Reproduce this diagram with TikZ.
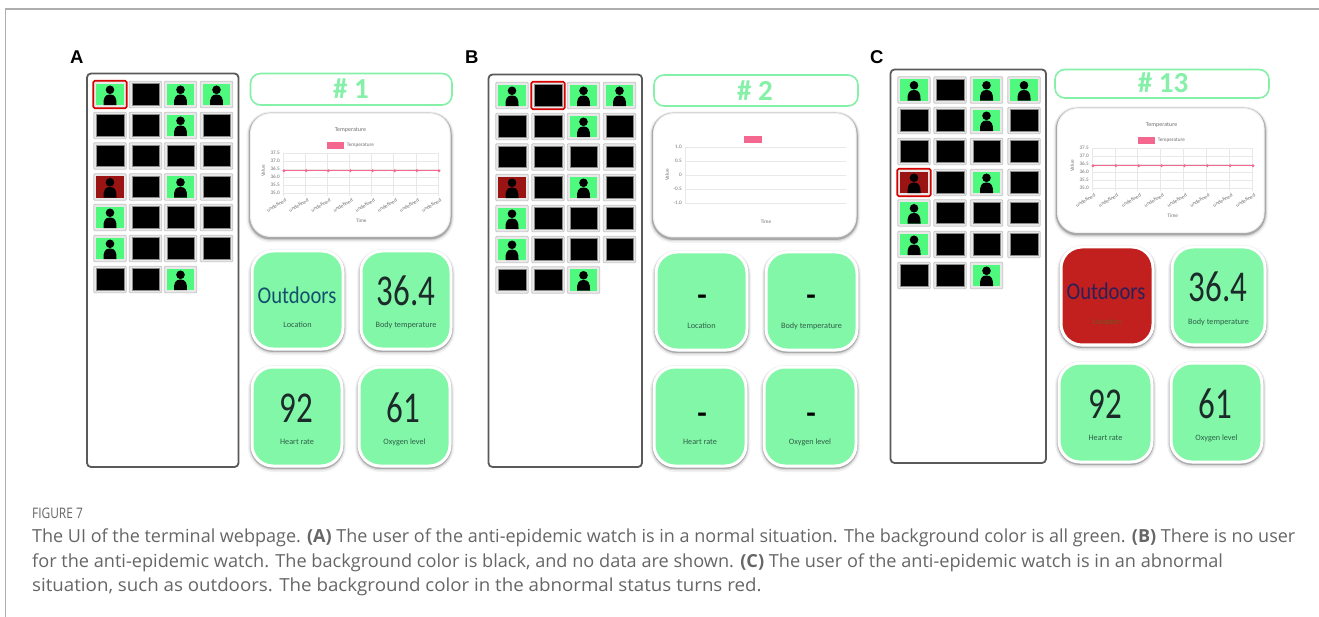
\documentclass[tikz,border=0pt]{standalone}
\usepackage{fontspec}
\usepackage{graphicx}
\setmainfont{Carlito}
\newfontfamily\capfont{Open Sans}
\newfontfamily\letterfont{Liberation Sans}
\definecolor{cardgreen}{HTML}{82F7A8}
\definecolor{titlegreen}{HTML}{84F0A8}
\definecolor{cardred}{HTML}{C21F1F}
\definecolor{thumbgreen}{HTML}{4FF97E}
\definecolor{thumbred}{HTML}{9A1414}
\definecolor{framegray}{HTML}{5A5A5A}
\definecolor{rulegray}{HTML}{AEAEAE}
\definecolor{gridgray}{HTML}{E8E8E8}
\definecolor{labgray}{HTML}{707070}
\definecolor{pinkline}{HTML}{F4688F}
\definecolor{tealtext}{HTML}{14506E}
\definecolor{navytext}{HTML}{2A2058}
\definecolor{darktext}{HTML}{1C2A2A}
\definecolor{labgreen}{HTML}{2F6048}
\definecolor{labred}{HTML}{6E5A20}
\definecolor{capgray}{HTML}{666666}
\newcommand{\fs}[1]{\fontsize{#1}{#1}\selectfont}
\tikzset{
  softshadow/.style={
    preaction={draw=black,draw opacity=.05,line width=8pt,transform canvas={yshift=-2pt}},
    preaction={draw=black,draw opacity=.10,line width=5.5pt,transform canvas={yshift=-1.5pt}},
    preaction={draw=black,draw opacity=.22,line width=3.5pt,transform canvas={yshift=-1.2pt}}},
  panelframe/.style={rectangle,rounded corners=4pt,draw=framegray,line width=1.8pt,fill=white,inner sep=0pt},
  titlebar/.style={rectangle,rounded corners=10pt,draw=titlegreen,line width=1.6pt,fill=white,inner sep=0pt},
  chartcard/.style={rectangle,rounded corners=20pt,draw=white!94!black,line width=1pt,fill=white,inner sep=0pt,softshadow},
  infobox/.style={rectangle,rounded corners=21pt,draw=white,line width=3pt,inner sep=0pt,softshadow},
  thumbbase/.style={rectangle,rounded corners=1pt,draw=black!22,line width=.8pt,fill=black!9,inner sep=0pt,minimum width=32.5pt,minimum height=26.5pt},
  thumbface/.style={rectangle,inner sep=0pt,minimum width=27.5pt,minimum height=21.5pt,draw=black!45,line width=.5pt},
  thumbsel/.style={rectangle,rounded corners=1.5pt,draw=red!85!black,line width=1.6pt,inner sep=0pt,minimum width=33.5pt,minimum height=27.5pt},
  chartsmall/.style={text=labgray,inner sep=0pt,font=\fs{5.2}},
  captxt/.style={text=capgray,anchor=base west,inner sep=0pt,font=\capfont\fs{18}},
  panelletter/.style={text=black,anchor=base west,inner sep=0pt,font=\letterfont\bfseries\fs{18.5}},
  x=1pt,y=-1pt
}
% box between corners
\newcommand{\boxnode}[6]{%
  \pgfmathsetmacro{\bw}{#4-#2}\pgfmathsetmacro{\bh}{#5-#3}%
  \pgfmathsetmacro{\bx}{(#2+#4)/2}\pgfmathsetmacro{\by}{(#3+#5)/2}%
  \node[#6,minimum width=\bw pt,minimum height=\bh pt] (#1) at (\bx,\by) {};}
\newcommand{\setcols}[4]{\expandafter\def\csname cx1\endcsname{#1}\expandafter\def\csname cx2\endcsname{#2}\expandafter\def\csname cx3\endcsname{#3}\expandafter\def\csname cx4\endcsname{#4}}
\newcommand{\setrows}[7]{\expandafter\def\csname ry1\endcsname{#1}\expandafter\def\csname ry2\endcsname{#2}\expandafter\def\csname ry3\endcsname{#3}\expandafter\def\csname ry4\endcsname{#4}\expandafter\def\csname ry5\endcsname{#5}\expandafter\def\csname ry6\endcsname{#6}\expandafter\def\csname ry7\endcsname{#7}}
\def\kindK{K}\def\kindG{G}
% one thumbnail
\newcommand{\thumbcell}[4]{%
  \node[thumbbase] (#1) at (#2,#3) {};
  \edef\kindnow{#4}%
  \ifx\kindnow\kindK
    \node[thumbface,fill=black] (#1-f) at (#2,#3) {};
  \else
    \ifx\kindnow\kindG
      \node[thumbface,fill=thumbgreen,draw=none] (#1-f) at (#2,#3) {};
    \else
      \node[thumbface,fill=thumbred,draw=none] (#1-f) at (#2,#3) {};
    \fi
    \fill[black] (#2,#3-4.7) circle[radius=4.3];
    \fill[black] (#2-6.5,#3+10.7) .. controls (#2-6.7,#3+3) and (#2-5,#3) .. (#2,#3)
       .. controls (#2+5,#3) and (#2+6.7,#3+3) .. (#2+6.5,#3+10.7) -- cycle;
  \fi}
\newcommand{\thumbset}[1]{%
  \foreach \rr/\cc/\kk in {1/1/G,1/2/K,1/3/G,1/4/G,2/1/K,2/2/K,2/3/G,2/4/K,3/1/K,3/2/K,3/3/K,3/4/K,
     4/1/R,4/2/K,4/3/G,4/4/K,5/1/G,5/2/K,5/3/K,5/4/K,6/1/G,6/2/K,6/3/K,6/4/K,7/1/K,7/2/K,7/3/G}{%
    \edef\tx{\csname cx\cc\endcsname}\edef\ty{\csname ry\rr\endcsname}%
    \thumbcell{#1-\rr-\cc}{\tx}{\ty}{\kk}
  }}
\newcommand{\thumbmark}[3]{%
  \edef\tx{\csname cx#3\endcsname}\edef\ty{\csname ry#2\endcsname}%
  \node[thumbsel] (#1-sel) at (\tx,\ty) {};}
% line chart
\newcommand{\tempchart}[4]{% prefix x0 y0 w ; height 40
  \node[text=labgray,inner sep=0pt,font=\fs{6}] (#1-ttl) at (#2+.435*#4,#3-23) {Temperature};
  \fill[pinkline] (#2+.285*#4,#3-11) rectangle (#2+.395*#4,#3-4) coordinate (#1-leg);
  \node[chartsmall,anchor=west] (#1-legl) at (#2+.41*#4,#3-7.5) {Temperature};
  \foreach \i in {0,...,5}{\draw[gridgray,line width=.6pt] (#2,#3+\i*8) -- (#2+#4,#3+\i*8);}
  \foreach \i in {0,...,7}{\draw[gridgray,line width=.6pt] (#2+\i*#4/7,#3) -- (#2+\i*#4/7,#3+43);}
  \foreach \i/\v in {0/37.5,1/37.0,2/36.5,3/36.0,4/35.5,5/35.0}{\node[chartsmall,anchor=east] (#1-yl\i) at (#2-3,#3+\i*8) {\v};}
  \node[chartsmall,rotate=90] (#1-val) at (#2-20,#3+18) {Value};
  \node[chartsmall] (#1-time) at (#2+.505*#4,#3+68) {Time};
  \draw[pinkline,line width=1.6pt] (#2+1,#3+17.7) -- (#2+#4,#3+17.7);
  \foreach \i in {0,...,7}{
    \fill[pinkline] (#2+1+\i*#4/7,#3+17.7) circle[radius=1.6];
    \node[chartsmall,anchor=north east,rotate=30] (#1-und\i) at (#2+2+\i*#4/7,#3+45) {undefined};}
}
\newcommand{\infocard}[8]{% name x1 y1 x2 y2 fill labcolor label
  \boxnode{#1}{#2}{#3}{#4}{#5}{infobox,fill=#6}
  \pgfmathsetmacro{\lx}{(#2+#4)/2}\pgfmathsetmacro{\ly}{#3+77}
  \node[anchor=base,text=#7,inner sep=0pt,font=\fs{8.2}] (#1-lab) at (\lx,\ly) {#8};}
\newcommand{\bigvalue}[5]{\node[anchor=base,text=#4,inner sep=0pt,font=\fs{44}] (#1) at (#2,#3) {\scalebox{.75}[1]{#5}};}
\newcommand{\wordvalue}[4]{\node[anchor=base,text=#4,inner sep=0pt,font=\fs{24}] (#1) at (#2,#3) {\scalebox{.86}[1]{Outdoors}};}
\newcommand{\dashvalue}[3]{\node[anchor=base,text=black,inner sep=0pt,font=\bfseries\fs{31}] (#1) at (#2,#3) {-};}
\begin{document}
\begin{tikzpicture}
\useasboundingbox (0,0) rectangle (1319,617);
\fill[white] (0,0) rectangle (1319,617);
\draw[rulegray,line width=1.4pt] (1319,9) -- (5.5,9) -- (5.5,617);

% ---------- panel A
\node[panelletter] (la) at (70,64) {A};
\boxnode{a-frame}{87}{73.5}{238.5}{467}{panelframe}
\setcols{110}{145.5}{180.5}{216.5}\setrows{94.5}{125.5}{156}{187}{217.5}{248.5}{279.5}
\thumbset{a}
\thumbmark{a}{1}{1}
\boxnode{a-title}{250.5}{73.5}{452}{105}{titlebar}
\node[text=titlegreen,inner sep=0pt,anchor=base,font=\bfseries\fs{29}] (a-num) at (351,99) {\# 1};
\boxnode{a-chart}{250.5}{113.5}{450}{236.5}{chartcard}
\tempchart{a-c}{283}{153}{155}
\infocard{a-loc}{252}{251}{343}{349}{cardgreen}{labgreen}{Location}
\infocard{a-body}{361}{251}{451}{349}{cardgreen}{labgreen}{Body temperature}
\infocard{a-heart}{252}{367}{342}{466}{cardgreen}{labgreen}{Heart rate}
\infocard{a-oxy}{359}{367}{450}{466}{cardgreen}{labgreen}{Oxygen level}
\wordvalue{a-v1}{297}{304}{tealtext}
\bigvalue{a-v2}{406}{306}{darktext}{36.4}
\bigvalue{a-v3}{296}{422}{darktext}{92}
\bigvalue{a-v4}{403}{422}{darktext}{61}

% ---------- panel B
\node[panelletter] (lb) at (465,64) {B};
\boxnode{b-frame}{488.5}{74.5}{642}{467}{panelframe}
\setcols{512}{548}{583.5}{619.5}\setrows{95.5}{126.5}{157}{187.5}{218.5}{249.5}{280}
\thumbset{b}
\thumbmark{b}{1}{2}
\boxnode{b-title}{654}{75}{858}{106}{titlebar}
\node[text=titlegreen,inner sep=0pt,anchor=base,font=\bfseries\fs{29}] (b-num) at (755,101) {\# 2};
\boxnode{b-chart}{653.5}{113.5}{856}{237}{chartcard}
\fill[pinkline] (744,136) rectangle (762,143) coordinate (b-leg);
\foreach \i/\v in {0/1.0,1/0.5,2/0,3/-0.5,4/-1.0}{
  \draw[gridgray,line width=.8pt] (685,147+\i*14) -- (846,147+\i*14);
  \node[chartsmall,anchor=east] (b-yl\i) at (682,147+\i*14) {\v};}
\draw[gridgray,line width=.6pt] (685,147) -- (685,203);
\node[chartsmall,rotate=90] (b-val) at (667,175) {Value};
\node[chartsmall] (b-time) at (766,222) {Time};
\infocard{b-loc}{656}{252}{747}{350}{cardgreen}{labgreen}{Location}
\infocard{b-body}{766}{252}{857}{350}{cardgreen}{labgreen}{Body temperature}
\infocard{b-heart}{654}{367}{746}{466}{cardgreen}{labgreen}{Heart rate}
\infocard{b-oxy}{764}{367}{856}{466}{cardgreen}{labgreen}{Oxygen level}
\dashvalue{b-v1}{702}{306}
\dashvalue{b-v2}{811}{306}
\dashvalue{b-v3}{702}{423}
\dashvalue{b-v4}{811}{423}

% ---------- panel C
\node[panelletter] (lc) at (870,64) {C};
\boxnode{c-frame}{890.5}{69.5}{1046}{463}{panelframe}
\setcols{914}{950}{986.5}{1024}\setrows{90}{120.5}{151.5}{182.5}{213}{244.5}{275.5}
\thumbset{c}
\thumbmark{c}{4}{1}
\boxnode{c-title}{1055}{69.5}{1269}{98}{titlebar}
\node[text=titlegreen,inner sep=0pt,anchor=base,font=\bfseries\fs{29}] (c-num) at (1163,93) {\# 13};
\boxnode{c-chart}{1057.5}{108.5}{1264}{232.5}{chartcard}
\tempchart{c-c}{1092}{148}{160}
\infocard{c-loc}{1061}{247}{1153}{345}{cardred}{labred}{Location}
\infocard{c-body}{1172}{247}{1265}{345}{cardgreen}{labgreen}{Body temperature}
\infocard{c-heart}{1059}{363}{1152}{462}{cardgreen}{labgreen}{Heart rate}
\infocard{c-oxy}{1171}{363}{1262}{462}{cardgreen}{labgreen}{Oxygen level}
\wordvalue{c-v1}{1106}{300}{navytext}
\bigvalue{c-v2}{1218}{302}{darktext}{36.4}
\bigvalue{c-v3}{1105}{418}{darktext}{92}
\bigvalue{c-v4}{1215}{418}{darktext}{61}

% ---------- caption
\node[captxt] (cap0) at (32,518) {\fs{14.5}\scalebox{.82}[1]{FIGURE 7}};
\node[captxt] (cap1) at (32,542) {The UI of the terminal webpage. \textbf{(A)} The user of the anti-epidemic watch is in a normal situation. The background color is all green. \textbf{(B)} There is no user};
\node[captxt] (cap2) at (32,567) {\scalebox{1.008}[1]{for the anti-epidemic watch. The background color is black, and no data are shown. \textbf{(C)} The user of the anti-epidemic watch is in an abnormal}};
\node[captxt] (cap3) at (32,591) {\scalebox{1.04}[1]{situation, such as outdoors. The background color in the abnormal status turns red.}};
\end{tikzpicture}
\end{document}
